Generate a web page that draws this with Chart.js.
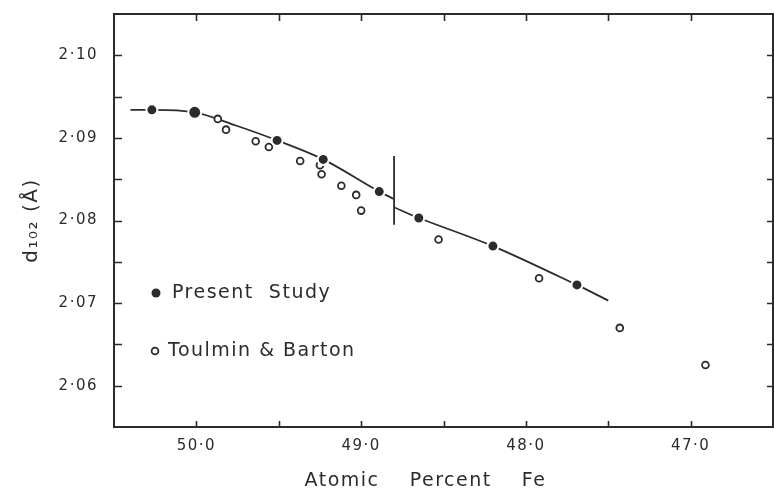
<!DOCTYPE html>
<html>
<head>
<meta charset="utf-8">
<script src="https://cdn.jsdelivr.net/npm/chart.js@4.4.1/dist/chart.umd.min.js"></script>
<style>
  html, body { margin: 0; padding: 0; background: #fff; }
  #wrap { width: 774px; height: 491px; }
</style>
</head>
<body>
<div id="wrap"><canvas id="chart" width="774" height="491"></canvas></div>
<script>
// --- data (x = atomic % Fe, y = d102 in Å) ---
const presentX = [50.27, 50.01, 49.51, 49.23, 48.89, 48.65, 48.20, 47.69];
const presentY = [2.0934, 2.0931, 2.0897, 2.0874, 2.0835, 2.0803, 2.0769, 2.0722];

const toulminX = [49.87, 49.82, 49.64, 49.56, 49.37, 49.25, 49.24, 49.12, 49.03, 49.00, 48.53, 47.92, 47.43, 46.91];
const toulminY = [2.0923, 2.0910, 2.0896, 2.0889, 2.0872, 2.0867, 2.0856, 2.0842, 2.0831, 2.0812, 2.0777, 2.0730, 2.0670, 2.0625];

// hand-drawn curve, broken at the vertical marker
const curveUpperX = [50.40, 50.27, 50.01, 49.76, 49.51, 49.23, 48.89, 48.80];
const curveUpperY = [2.0934, 2.0934, 2.0931, 2.0915, 2.0897, 2.0874, 2.0835, 2.0826];
const curveLowerX = [48.80, 48.65, 48.20, 47.69, 47.50];
const curveLowerY = [2.0816, 2.0803, 2.0769, 2.0722, 2.0703];

const markerX = [48.80, 48.80];
const markerY = [2.0878, 2.0795];

// axes
const xLabelValues = [50.0, 49.0, 48.0, 47.0];
const xTickMarks = [50.0, 49.5, 49.0, 48.5, 48.0, 47.5, 47.0];
const yLabelValues = [2.06, 2.07, 2.08, 2.09, 2.10];
const yTickMarks = [2.060, 2.065, 2.070, 2.075, 2.080, 2.085, 2.090, 2.095, 2.100];

const legendLabels = ['Present  Study', 'Toulmin & Barton'];
const xTitle = 'Atomic    Percent    Fe';
const yTitle = 'd\u2081\u2080\u2082 (\u00C5)';

const INK = '#2b2b2b';
const FONT = "'DejaVu Sans', sans-serif";

const pts = (xs, ys) => xs.map((x, i) => ({ x, y: ys[i] }));

// frame, inward tick marks, x title and the in-plot legend
const paperPlugin = {
    id: 'paper',
    beforeUpdate(chart) {
        chart.ctx.letterSpacing = '1.5px';
    },
    afterDraw(chart) {
        const { ctx, chartArea: a, scales } = chart;
        ctx.save();
        ctx.letterSpacing = '1.5px';
        ctx.strokeStyle = INK;
        ctx.lineWidth = 2;
        ctx.strokeRect(a.left, a.top, a.right - a.left, a.bottom - a.top);

        ctx.lineWidth = 1.6;
        ctx.beginPath();
        xTickMarks.forEach(v => {
            const px = Math.round(scales.x.getPixelForValue(v)) + 0.5;
            ctx.moveTo(px, a.bottom); ctx.lineTo(px, a.bottom - 6);
            ctx.moveTo(px, a.top); ctx.lineTo(px, a.top + 7);
        });
        yTickMarks.forEach(v => {
            const py = Math.round(scales.y.getPixelForValue(v)) + 0.5;
            ctx.moveTo(a.left, py); ctx.lineTo(a.left + 8, py);
            ctx.moveTo(a.right, py); ctx.lineTo(a.right - 6, py);
        });
        ctx.stroke();

        // x axis title (sits a little left of centre in the original)
        ctx.fillStyle = INK;
        ctx.font = '19px ' + FONT;
        ctx.textAlign = 'center';
        ctx.textBaseline = 'middle';
        ctx.fillText(xTitle, (a.left + a.right) / 2 - 18, 481);

        // legend
        ctx.textAlign = 'left';
        const lx = a.left + 42;
        const ly = [a.top + 279, a.top + 337];
        ctx.beginPath();
        ctx.arc(lx, ly[0], 4.5, 0, Math.PI * 2);
        ctx.fill();
        ctx.beginPath();
        ctx.lineWidth = 1.8;
        ctx.arc(lx - 1, ly[1], 3.4, 0, Math.PI * 2);
        ctx.stroke();
        ctx.fillText(legendLabels[0], lx + 16, ly[0]);
        ctx.fillText(legendLabels[1], lx + 12, ly[1]);
        ctx.restore();
    }
};

new Chart(document.getElementById('chart'), {
    type: 'scatter',
    data: {
        datasets: [
            {
                label: 'Present Study',
                data: pts(presentX, presentY),
                backgroundColor: INK,
                borderColor: '#ffffff',
                borderWidth: 2,
                pointRadius: [5.5, 6.5, 5.5, 5.5, 5.5, 5.5, 5.5, 5.5],
                showLine: false,
            },
            {
                label: 'Toulmin & Barton',
                data: pts(toulminX, toulminY),
                backgroundColor: '#ffffff',
                borderColor: INK,
                borderWidth: 1.8,
                pointRadius: 3.4,
                showLine: false,
            },
            {
                label: 'curve-upper',
                data: pts(curveUpperX, curveUpperY),
                showLine: true,
                borderColor: INK,
                borderWidth: 1.8,
                pointRadius: 0,
                cubicInterpolationMode: 'monotone',
            },
            {
                label: 'curve-lower',
                data: pts(curveLowerX, curveLowerY),
                showLine: true,
                borderColor: INK,
                borderWidth: 1.8,
                pointRadius: 0,
                tension: 0.3,
            },
            {
                label: 'marker',
                data: pts(markerX, markerY),
                showLine: true,
                borderColor: INK,
                borderWidth: 1.8,
                pointRadius: 0,
            },
        ],
    },
    options: {
        responsive: false,
        animation: false,
        events: [],
        layout: { autoPadding: false, padding: { left: 0, right: 1, top: 14, bottom: 0 } },
        scales: {
            x: {
                type: 'linear',
                reverse: true,
                min: 46.5,
                max: 50.5,
                afterBuildTicks: s => { s.ticks = xLabelValues.map(v => ({ value: v })); },
                afterFit: s => { s.height = 64; s.paddingLeft = 0; s.paddingRight = 0; },
                grid: { display: false, drawTicks: false },
                border: { display: false },
                ticks: {
                    padding: 10,
                    color: INK,
                    font: { family: FONT, size: 15 },
                    callback: v => v.toFixed(1).replace('.', '\u00B7'),
                },
            },
            y: {
                type: 'linear',
                min: 2.055,
                max: 2.105,
                afterBuildTicks: s => { s.ticks = yLabelValues.map(v => ({ value: v })); },
                afterFit: s => { s.width = 114; s.paddingTop = 0; s.paddingBottom = 0; },
                grid: { display: false, drawTicks: false },
                border: { display: false },
                ticks: {
                    padding: 16,
                    color: INK,
                    font: { family: FONT, size: 15 },
                    callback: v => v.toFixed(2).replace('.', '\u00B7'),
                },
                title: {
                    display: true,
                    text: yTitle,
                    color: INK,
                    padding: { top: 20, bottom: 0 },
                    font: { family: FONT, size: 20 },
                },
            },
        },
        plugins: {
            legend: { display: false },
            tooltip: { enabled: false },
        },
    },
    plugins: [paperPlugin],
});
</script>
</body>
</html>
